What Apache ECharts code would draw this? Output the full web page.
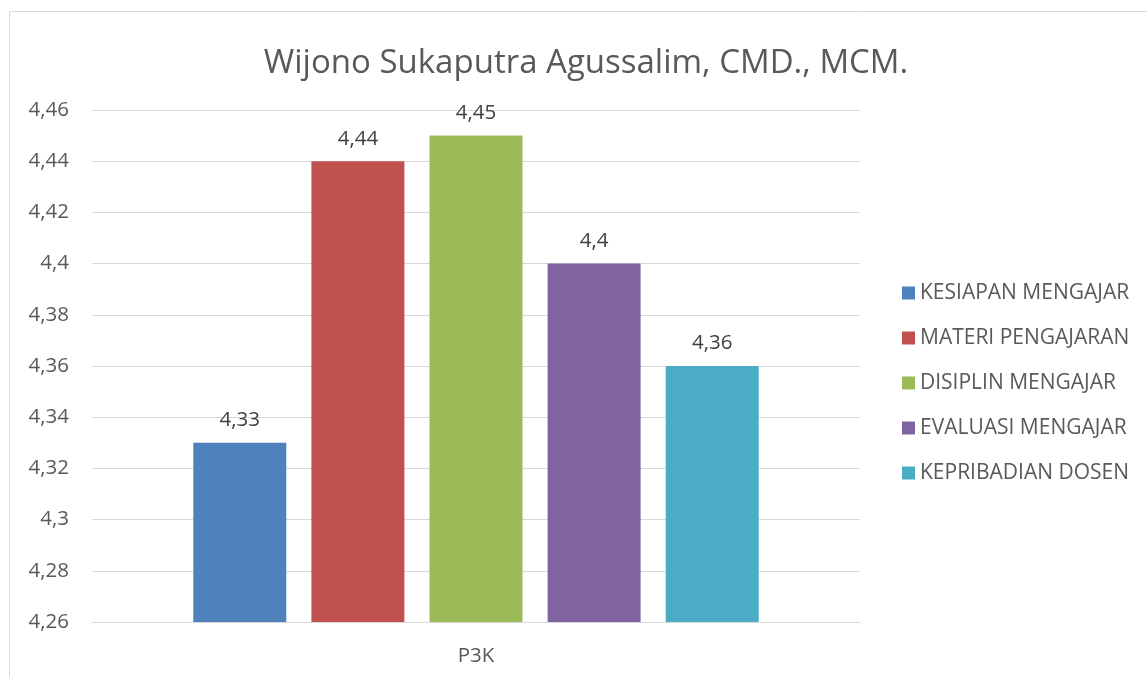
<!DOCTYPE html>
<html>
<head>
<meta charset="utf-8">
<script src="https://cdn.jsdelivr.net/npm/echarts@6/dist/echarts.min.js"></script>
<style>
  html, body { margin: 0; padding: 0; background: #fff; }
  #chart { width: 1147px; height: 677px; }
</style>
</head>
<body>
<div id="chart"></div>
<script>
const categories = ['P3K'];
const seriesNames = ['KESIAPAN MENGAJAR', 'MATERI PENGAJARAN', 'DISIPLIN MENGAJAR', 'EVALUASI MENGAJAR', 'KEPRIBADIAN DOSEN'];
const seriesValues = [4.33, 4.44, 4.45, 4.4, 4.36];
const colors = ['#4f81bd', '#c0504d', '#9bbb59', '#8064a2', '#4bacc6'];

const font = '"Open Sans", "Noto Sans", sans-serif';

function fmt(v) {
    return String(parseFloat(Number(v).toFixed(2))).replace('.', ',');
}

let chart = echarts.init(document.getElementById('chart'));

let option = {
    animation: false,
    color: colors,
    title: {
        text: 'Wijono Sukaputra Agussalim, CMD., MCM.',
        left: 581,
        textAlign: 'center',
        top: 42,
        textStyle: {
            color: '#595959',
            fontSize: 33,
            fontWeight: 'normal',
            fontFamily: font
        }
    },
    graphic: [{
        type: 'polyline',
        shape: { points: [[9.5, 690], [9.5, 11.5], [1160, 11.5]] },
        style: { stroke: '#d9d9d9', fill: null, lineWidth: 1 }
    }],
    legend: {
        orient: 'vertical',
        left: 897,
        top: 277,
        itemWidth: 13,
        itemHeight: 13,
        itemGap: 23,
        icon: 'rect',
        textStyle: {
            color: '#595959',
            fontSize: 21,
            lineHeight: 22,
            fontFamily: font
        },
        data: seriesNames
    },
    grid: {
        left: 92,
        right: 1147 - 860,
        top: 110,
        bottom: 677 - 622,
        containLabel: false
    },
    xAxis: {
        type: 'category',
        data: categories,
        axisLine: { lineStyle: { color: '#d9d9d9', width: 1 } },
        axisTick: { show: false },
        axisLabel: {
            color: '#595959',
            fontSize: 20.5,
            fontFamily: font,
            margin: 24
        }
    },
    yAxis: {
        type: 'value',
        min: 4.26,
        max: 4.46,
        interval: 0.02,
        axisLine: { show: false },
        axisTick: { show: false },
        splitLine: { lineStyle: { color: '#d9d9d9', width: 1 } },
        axisLabel: {
            color: '#595959',
            fontSize: 20.5,
            fontFamily: font,
            margin: 23,
            formatter: fmt
        }
    },
    series: seriesNames.map(function (name, i) {
        return {
            name: name,
            type: 'bar',
            data: [seriesValues[i]],
            barWidth: 93,
            barGap: '27%',
            label: {
                show: true,
                position: 'top',
                distance: 12,
                color: '#404040',
                fontSize: 20.5,
                fontFamily: font,
                formatter: function (p) { return fmt(p.value); }
            }
        };
    })
};

chart.setOption(option);
</script>
</body>
</html>
